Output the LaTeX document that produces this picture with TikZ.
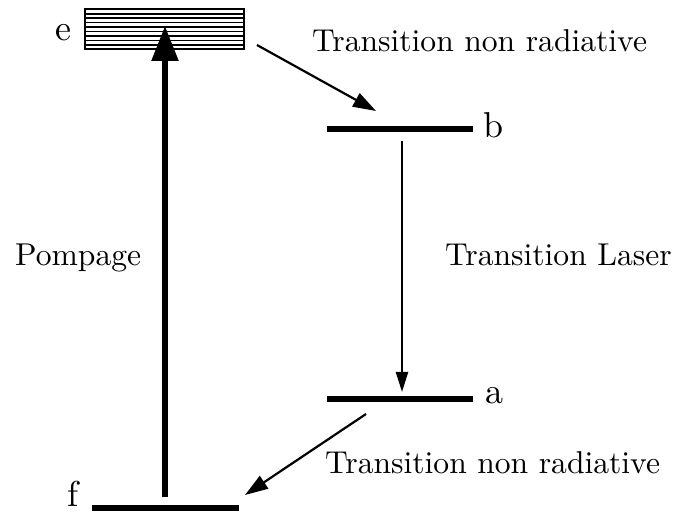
\documentclass[tikz,border=0pt]{standalone}
\usetikzlibrary{arrows.meta}
\newcommand\bigtext[1]{\scalebox{3.16}{#1}}
\newcommand\lvltext[1]{\scalebox{3.6}{#1}}
\begin{document}
\begin{tikzpicture}[x=1pt,y=-1pt,
  level/.style={line width=5.2pt},
  lbl/.style={inner sep=0pt, anchor=base west},
  stripe/.style={line width=1.7pt},
  pump/.style={line width=5.5pt, -{Triangle[length=35pt,width=26pt]}},
  laser/.style={line width=2.2pt, -{Triangle[length=20pt,width=12pt]}},
  nonrad/.style={line width=2.2pt, -{Triangle[length=23pt,width=15pt]}}]
\useasboundingbox (0,0) rectangle (673,513);
% level e (striped box)
\node (ebox) [draw, line width=2.2pt, minimum width=159pt, minimum height=40pt, inner sep=0pt] at (164.5,29.3) {};
\foreach \i in {1,...,8} {
  \draw[stripe] (85,9.3+4.44*\i) -- (244,9.3+4.44*\i);
}
% levels
\coordinate (bL) at (327,129); \coordinate (bR) at (473,129);
\coordinate (aL) at (327,399); \coordinate (aR) at (473,399);
\coordinate (fL) at (92,508);  \coordinate (fR) at (239,508);
\draw[level] (bL) -- (bR);
\draw[level] (aL) -- (aR);
\draw[level] (fL) -- (fR);
% arrows
\coordinate (pS) at (165,497); \coordinate (pE) at (165,26);
\draw[pump] (pS) -- (pE);
\coordinate (lS) at (402,141); \coordinate (lE) at (402,392);
\draw[laser] (lS) -- (lE);
\coordinate (n1S) at (257,45); \coordinate (n1E) at (376,111);
\draw[nonrad] (n1S) -- (n1E);
\coordinate (n2S) at (366,414); \coordinate (n2E) at (245,495);
\draw[nonrad] (n2S) -- (n2E);
% labels
\node[lbl] (le) at (55,41) {\lvltext{e}};
\node[lbl] (lb) at (483,138) {\lvltext{b}};
\node[lbl] (la) at (485,404) {\lvltext{a}};
\node[lbl] (lf) at (67,506) {\lvltext{f}};
\node[lbl] (t1) at (312,52) {\bigtext{Transition non radiative}};
\node[lbl] (t2) at (325,473) {\bigtext{Transition non radiative}};
\node[lbl] (t3) at (445,266) {\bigtext{Transition Laser}};
\node[lbl] (t4) at (15,266) {\bigtext{Pompage}};
\end{tikzpicture}
\end{document}
